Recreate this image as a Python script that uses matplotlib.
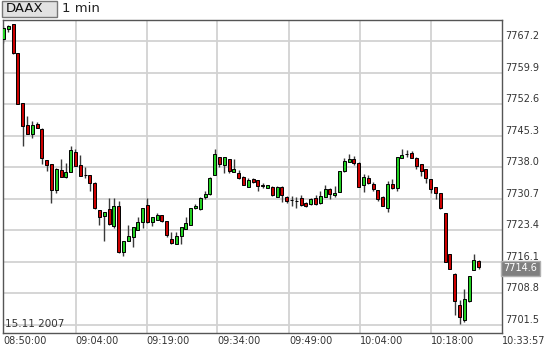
import matplotlib.pyplot as plt
import matplotlib.patches as mpatches
import numpy as np

plt.rcParams['font.family'] = 'DejaVu Sans'

# 1-minute DAAX candles, 15.11.2007
opens = [7767.66, 7770.08, 7771.05, 7764.37, 7752.85, 7747.69, 7745.78, 7748.02, 7746.93, 7739.63,
         7738.64, 7732.65, 7737.42, 7735.81, 7736.96, 7741.57, 7738.48, 7736.18, 7736.18, 7734.43,
         7728.12, 7726.60, 7728.28, 7724.43, 7728.90, 7718.45, 7720.98, 7721.76, 7723.51, 7725.35,
         7729.20, 7725.22, 7725.75, 7726.90, 7725.45, 7721.37, 7720.22, 7722.13, 7723.67, 7724.59,
         7728.51, 7728.28, 7731.20, 7731.73, 7736.18, 7740.32, 7738.48, 7739.96, 7736.87, 7736.73,
         7735.81, 7733.51, 7735.35, 7734.96, 7733.81, 7733.28, 7733.51, 7731.20, 7733.51, 7731.20,
         7730.42, 7730.12, 7730.97, 7729.82, 7729.43, 7730.97, 7729.59, 7731.20, 7733.05, 7731.57,
         7732.35, 7737.10, 7739.26, 7739.79, 7739.03, 7733.81, 7735.58, 7734.04, 7732.72, 7731.20,
         7728.51, 7734.04, 7733.28, 7740.19, 7741.11, 7741.34, 7740.19, 7738.64, 7737.49, 7735.19,
         7733.41, 7731.96, 7727.29, 7717.91, 7713.31, 7706.17, 7702.55, 7706.93, 7714.23, 7716.23]
highs = [7770.65, 7770.88, 7771.10, 7764.40, 7752.90, 7749.77, 7748.61, 7748.47, 7747.00, 7739.70,
         7738.70, 7737.88, 7739.79, 7739.03, 7742.86, 7742.10, 7740.72, 7738.02, 7736.20, 7734.50,
         7728.20, 7727.60, 7730.81, 7730.81, 7730.19, 7720.90, 7724.66, 7724.10, 7726.37, 7728.50,
         7730.81, 7726.40, 7727.36, 7727.00, 7725.50, 7722.91, 7722.91, 7724.10, 7726.37, 7728.60,
         7729.43, 7731.10, 7732.49, 7735.70, 7742.10, 7740.40, 7740.40, 7740.00, 7739.96, 7737.26,
         7735.90, 7735.58, 7735.58, 7735.00, 7734.43, 7733.90, 7733.60, 7733.60, 7733.60, 7731.30,
         7731.34, 7731.20, 7731.50, 7729.90, 7730.80, 7731.50, 7732.49, 7733.81, 7733.10, 7733.64,
         7737.20, 7740.19, 7741.11, 7740.55, 7739.10, 7736.34, 7736.11, 7734.57, 7732.80, 7731.30,
         7734.80, 7735.19, 7740.40, 7742.10, 7741.87, 7741.70, 7740.30, 7738.70, 7737.60, 7735.30,
         7733.50, 7732.00, 7727.40, 7718.00, 7713.40, 7707.16, 7709.86, 7712.80, 7717.91, 7716.60]
lows = [7766.74, 7769.27, 7764.30, 7752.60, 7743.02, 7745.60, 7744.79, 7747.00, 7738.64, 7737.10,
        7729.59, 7731.96, 7735.70, 7735.42, 7736.90, 7738.20, 7735.90, 7735.58, 7732.49, 7728.40,
        7724.59, 7720.98, 7724.70, 7723.90, 7718.20, 7717.52, 7720.90, 7719.46, 7723.40, 7723.90,
        7725.10, 7724.29, 7725.70, 7725.40, 7721.76, 7720.30, 7720.10, 7720.22, 7723.60, 7724.50,
        7728.40, 7728.20, 7730.74, 7731.60, 7736.10, 7738.11, 7736.57, 7736.57, 7736.80, 7735.30,
        7733.80, 7733.40, 7734.43, 7732.49, 7733.12, 7733.20, 7731.40, 7731.10, 7729.96, 7729.82,
        7728.90, 7728.56, 7729.10, 7728.67, 7729.30, 7729.20, 7729.50, 7731.10, 7730.74, 7731.20,
        7732.20, 7737.00, 7739.20, 7738.41, 7733.30, 7732.26, 7734.20, 7732.49, 7730.19, 7728.90,
        7727.66, 7733.00, 7732.49, 7740.10, 7740.42, 7740.10, 7737.49, 7735.95, 7734.43, 7731.96,
        7730.58, 7728.30, 7716.00, 7714.40, 7703.87, 7701.57, 7702.25, 7706.80, 7714.10, 7714.46]
closes = [7770.12, 7770.65, 7764.37, 7752.69, 7747.62, 7745.71, 7747.85, 7747.09, 7740.02, 7738.48,
          7732.65, 7737.49, 7735.81, 7736.80, 7741.87, 7738.25, 7735.95, 7736.10, 7734.43, 7728.44,
          7726.37, 7727.52, 7724.82, 7728.90, 7718.31, 7720.84, 7721.99, 7724.06, 7725.22, 7728.44,
          7725.22, 7726.37, 7726.90, 7725.45, 7722.29, 7720.38, 7722.13, 7724.06, 7725.05, 7728.51,
          7729.06, 7730.97, 7731.73, 7735.58, 7741.11, 7738.64, 7740.32, 7737.10, 7737.65, 7735.42,
          7733.87, 7734.96, 7734.66, 7733.64, 7733.75, 7733.81, 7731.50, 7733.51, 7731.50, 7730.19,
          7730.36, 7730.06, 7729.20, 7729.04, 7730.74, 7729.43, 7731.34, 7732.88, 7731.73, 7732.12,
          7737.10, 7739.40, 7739.96, 7739.03, 7733.41, 7735.81, 7734.27, 7732.88, 7730.74, 7729.04,
          7734.04, 7733.12, 7740.32, 7740.79, 7741.05, 7740.19, 7738.25, 7737.10, 7735.58, 7733.05,
          7732.12, 7728.44, 7716.14, 7714.46, 7706.93, 7703.34, 7707.39, 7712.69, 7716.53, 7714.85]

time_pos = [15.04, 29.83, 44.48, 59.48, 74.27, 89.0]
time_labels = ['09:04:00', '09:19:00', '09:34:00', '09:49:00', '10:04:00', '10:18:00']
first_time = '08:50:00'
last_time = '10:33:57'
price_ticks = [7767.2, 7759.9, 7752.6, 7745.3, 7738.0, 7730.7, 7723.4, 7716.1, 7708.8, 7701.5]
last_price = 7714.6

xmin, xmax = -0.1, 103.85
ymin, ymax = 7699.6, 7772.2

fig = plt.figure(figsize=(5.5, 3.52), dpi=100)
ax = fig.add_axes([3 / 550, 19 / 352, 499 / 550, 313.5 / 352])

# grid
for p in price_ticks:
    ax.axhline(p, color='#d2d2d2', lw=1.3, zorder=1)
for t in time_pos:
    ax.axvline(t, color='#d2d2d2', lw=1.3, zorder=1)

# candles
o = np.array(opens)
c = np.array(closes)
x = np.arange(len(o))
colors = np.where(c >= o, '#22d022', '#cc0000')
ax.vlines(x, lows, highs, color='#3a3a3a', lw=1, zorder=2)
body_h = np.maximum(np.abs(c - o), 0.06)
ax.bar(x, body_h, bottom=np.minimum(o, c), width=0.64, color=colors,
       edgecolor='black', linewidth=0.7, zorder=3)

ax.set_xlim(xmin, xmax)
ax.set_ylim(ymin, ymax)

ax.set_xticks([xmin] + time_pos + [xmax])
ax.set_xticklabels([first_time] + time_labels + [last_time])
for lbl in ax.get_xticklabels():
    lbl.set_ha('left')
ax.tick_params(axis='x', length=0, pad=2, labelsize=7, labelcolor='#333333')
ax.set_yticks([])

for s in ax.spines.values():
    s.set_color('#555555')
    s.set_linewidth(1)

# right price labels
ytr = ax.get_yaxis_transform()
for p in price_ticks:
    ax.text(1.007, p, f'{p:.1f}', transform=ytr, ha='left', va='bottom',
            fontsize=7, color='#333333', clip_on=False)
ax.text(1.003, last_price, f'{last_price:.1f}', transform=ytr, ha='left', va='center',
        fontsize=7, color='white', clip_on=False,
        bbox=dict(facecolor='#7f7f7f', edgecolor='#b0b0b0', boxstyle='square,pad=0.25'))

ax.text(0.004, 0.012, '15.11 2007', transform=ax.transAxes, ha='left', va='bottom',
        fontsize=7.5, color='#333333')

# header
fig.patches.append(mpatches.Rectangle((2 / 550, (352 - 17) / 352), 55 / 550, 16 / 352,
                                      transform=fig.transFigure, facecolor='#e2e2e2',
                                      edgecolor='#777777', lw=1))
fig.text(6 / 550, 1 - 9 / 352, 'DAAX', ha='left', va='center', fontsize=9.5, color='#111111')
fig.text(62 / 550, 1 - 9 / 352, '1 min', ha='left', va='center', fontsize=9.5, color='#222222')

fig.savefig('out.png', dpi=100)
